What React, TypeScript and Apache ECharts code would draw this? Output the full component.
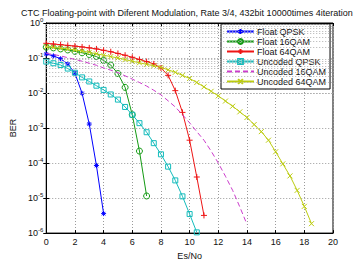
import React, { useEffect, useRef } from "react";
import * as echarts from "echarts";

// Es/No grid shared by all curves (0.5 dB steps)
const snrGrid = [
  0, 0.5, 1, 1.5, 2, 2.5, 3, 3.5, 4, 4.5, 5, 5.5, 6, 6.5, 7, 7.5, 8, 8.5, 9, 9.5,
  10, 10.5, 11, 11.5, 12, 12.5, 13, 13.5, 14, 14.5, 15, 15.5, 16, 16.5, 17, 17.5,
  18, 18.5,
];

const floatQpsk = [0.13, 0.115, 0.095, 0.068, 0.037, 0.0098, 1.3e-3, 8.5e-5, 3.6e-6];

const float16Qam = [
  0.204, 0.195, 0.182, 0.17, 0.155, 0.141, 0.126, 0.11, 0.085, 0.063, 0.036, 0.0145,
  0.0024, 2.2e-4, 1.15e-5,
];

const float64Qam = [
  0.263, 0.251, 0.24, 0.229, 0.219, 0.207, 0.195, 0.182, 0.166, 0.151, 0.135, 0.12,
  0.105, 0.091, 0.079, 0.068, 0.052, 0.032, 0.0117, 0.0028, 4.5e-4, 4.0e-5, 3.2e-6,
];

const uncodedQpsk = [
  0.079, 0.071, 0.063, 0.05, 0.038, 0.028, 0.0214, 0.0162, 0.0123, 0.0091, 0.0065,
  0.004, 0.0024, 0.00138, 7.6e-4, 3.7e-4, 1.78e-4, 7.9e-5, 3.2e-5, 1.12e-5, 3.5e-6,
  1.05e-6,
];

const uncoded16Qam = [
  0.135, 0.126, 0.115, 0.102, 0.091, 0.081, 0.071, 0.062, 0.052, 0.045, 0.038, 0.031,
  0.025, 0.02, 0.0158, 0.012, 0.0089, 0.006, 0.004, 0.0024, 0.00141, 7.9e-4, 4.5e-4,
  2.2e-4, 1.0e-4, 4.2e-5, 1.66e-5, 5.6e-6, 1.78e-6,
];

const uncoded64Qam = [
  0.209, 0.2, 0.191, 0.18, 0.17, 0.158, 0.145, 0.132, 0.12, 0.11, 0.1, 0.09, 0.081,
  0.073, 0.066, 0.06, 0.054, 0.046, 0.039, 0.032, 0.026, 0.02, 0.015, 0.0112, 0.0083,
  0.0059, 0.0042, 0.0029, 0.002, 0.00126, 7.9e-4, 4.5e-4, 2.1e-4, 9.5e-5, 4.3e-5,
  1.66e-5, 5.8e-6, 1.86e-6,
];

const xTicks = { min: 0, max: 20, interval: 2 };
const yRange = { min: 1e-6, max: 1 };

const FONT = "Liberation Sans, Arial, Helvetica, sans-serif";

const SYM_STAR = "path://M5,0L5,10M0,5L10,5M1.5,1.5L8.5,8.5M1.5,8.5L8.5,1.5";
const SYM_PLUS = "path://M5,0L5,10M0,5L10,5";
const SYM_CROSS = "path://M0,0L10,10M0,10L10,0";

function toPairs(values: number[]) {
  return values.map((v, i) => [snrGrid[i], v]);
}

// Log-style minor grid (2..9 x each decade)
const minorGrid: number[] = [];
for (let e = -6; e < 0; e++) {
  for (let m = 2; m <= 9; m++) minorGrid.push(m * Math.pow(10, e));
}

type Curve = {
  name: string;
  values: number[];
  color: string;
  symbol: string;
  size: number;
  dashed?: boolean;
  filled?: boolean;
};

const curves: Curve[] = [
  { name: "Float QPSK", values: floatQpsk, color: "#0000ff", symbol: SYM_STAR, size: 5, filled: true },
  { name: "Float 16QAM", values: float16Qam, color: "#139a13", symbol: "circle", size: 6 },
  { name: "Float 64QAM", values: float64Qam, color: "#ee1515", symbol: SYM_PLUS, size: 6 },
  { name: "Uncoded QPSK", values: uncodedQpsk, color: "#14bcbc", symbol: "rect", size: 5 },
  { name: "Uncoded 16QAM", values: uncoded16Qam, color: "#cc3ccc", symbol: "none", size: 0, dashed: true },
  { name: "Uncoded 64QAM", values: uncoded64Qam, color: "#bccc10", symbol: SYM_CROSS, size: 5 },
];

export default function App() {
  const ref = useRef<HTMLDivElement>(null);

  useEffect(() => {
    document.body.style.margin = "0";
    if (!ref.current) return;
    const chart = echarts.init(ref.current, undefined, { renderer: "svg" });

    const series: any[] = curves.map((c, idx) => ({
      name: c.name,
      type: "line",
      data: toPairs(c.values),
      symbol: c.symbol,
      symbolSize: c.size,
      showAllSymbol: true,
      lineStyle: { color: c.color, width: 1, type: c.dashed ? [5, 3] : "solid" },
      itemStyle: {
        color: c.filled ? c.color : "rgba(0,0,0,0)",
        borderColor: c.color,
        borderWidth: 1,
      },
      emphasis: { disabled: true },
      z: 3 + idx,
    }));

    // minor horizontal grid lines
    series.push({
      type: "line",
      data: [],
      silent: true,
      markLine: {
        silent: true,
        symbol: ["none", "none"],
        label: { show: false },
        lineStyle: { type: [1, 2], color: "#b0b0b0", width: 1 },
        data: minorGrid.map((v) => ({ yAxis: v })),
      },
      z: 1,
    });

    const labelSup = (v: number) => {
      const e = Math.round(Math.log10(v));
      return "{b|10}{e|" + e + "}";
    };

    chart.setOption({
      animation: false,
      title: {
        text: "CTC Floating-point with Diferent Modulation, Rate 3/4, 432bit 10000times 4iteration",
        left: 16,
        top: 3,
        textStyle: { fontSize: 9, fontWeight: "normal", color: "#111", fontFamily: FONT },
      },
      grid: {
        left: 36,
        right: 30,
        top: 23,
        bottom: 26,
        show: true,
        borderColor: "#000",
        borderWidth: 1,
        backgroundColor: "rgba(0,0,0,0)",
      },
      legend: {
        orient: "vertical",
        left: 221,
        top: 24,
        padding: [3, 4, 3, 5],
        itemWidth: 27,
        itemHeight: 6,
        itemGap: 1,
        backgroundColor: "#fff",
        borderColor: "#000",
        borderWidth: 1,
        borderRadius: 0,
        selectedMode: false,
        textStyle: { fontSize: 9, color: "#111", fontFamily: FONT, padding: [0, 0, 0, -2] },
        data: curves.map((c) =>
          c.symbol === "none"
            ? { name: c.name, itemStyle: { opacity: 0 } }
            : { name: c.name }
        ),
      },
      xAxis: [
        {
          type: "value",
          ...xTicks,
          name: "Es/No",
          nameLocation: "middle",
          nameGap: 15,
          nameTextStyle: { fontSize: 9, color: "#111", fontFamily: FONT },
          axisLine: { show: true, lineStyle: { color: "#000" } },
          axisTick: { show: true, inside: true, length: 3, lineStyle: { color: "#000" } },
          axisLabel: { fontSize: 9, color: "#111", margin: 4, fontFamily: FONT },
          splitLine: { show: true, lineStyle: { type: [1, 2], color: "#9a9a9a" } },
        },
        {
          type: "value",
          ...xTicks,
          position: "top",
          axisLine: { show: true, lineStyle: { color: "#000" } },
          axisTick: { show: true, inside: true, length: 3, lineStyle: { color: "#000" } },
          axisLabel: { show: false },
          splitLine: { show: false },
        },
      ],
      yAxis: [
        {
          type: "log",
          logBase: 10,
          ...yRange,
          name: "BER",
          nameLocation: "middle",
          nameGap: 22,
          nameTextStyle: { fontSize: 9, color: "#111", fontFamily: FONT },
          axisLine: { show: true, lineStyle: { color: "#000" } },
          axisTick: { show: true, inside: true, length: 3, lineStyle: { color: "#000" } },
          axisLabel: {
            formatter: labelSup,
            margin: 3,
            color: "#111",
            rich: {
              b: { fontSize: 9, color: "#111", fontFamily: FONT },
              e: { fontSize: 6, color: "#111", fontFamily: FONT, padding: [0, 0, 7, 0] },
            },
          },
          splitLine: { show: true, lineStyle: { type: [1, 2], color: "#9a9a9a" } },
        },
        {
          type: "log",
          logBase: 10,
          ...yRange,
          position: "right",
          axisLine: { show: true, lineStyle: { color: "#000" } },
          axisTick: { show: true, inside: true, length: 3, lineStyle: { color: "#000" } },
          axisLabel: { show: false },
          splitLine: { show: false },
        },
      ],
      series,
    });

    return () => chart.dispose();
  }, []);

  return <div ref={ref} style={{ width: 363, height: 265 }} />;
}
